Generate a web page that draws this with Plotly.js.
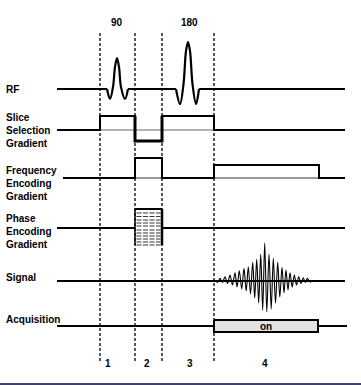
<!DOCTYPE html>
<html><head><meta charset="utf-8">
<script src="https://cdn.plot.ly/plotly-3.0.1.min.js"></script>
<style>html,body{margin:0;padding:0;background:#fff}#chart{width:361px;height:385px}</style>
</head><body><div id="chart"></div>
<script>
// ---- data (time in px-units along the sequence, amplitudes in px-units) ----
const boundaries = [100, 135, 162, 214];
const periodLabels = ['1', '2', '3', '4'];
const periodLabelT = [108, 147, 190, 265];
const pulseLabels = ['90', '180'];
const pulseLabelT = [117, 189];
const seqStart = 57, seqEnd = 345;

const rf90T = [107, 110, 113, 115, 117, 119, 121, 125, 128];
const rf90A = [0, -10, 2, 22, 31, 22, 2, -10, 0];
const rf180T = [176, 180, 183.5, 186, 188, 190, 192.5, 196, 199];
const rf180A = [0, -15, 5, 38, 47, 38, 5, -15, 0];

const sliceT = [57, 100, 100, 135, 135, 162, 162, 214, 214, 345];
const sliceA = [0, 0, 14, 14, -11, -11, 14, 14, 0, 0];

const freqT = [63, 135, 135, 162, 162, 214, 214, 319, 319, 345];
const freqA = [0, 0, 20, 20, 0, 0, 13, 13, 0, 0];

const phaseT = [135, 162];
const phaseLevels = [19, 15, 11.5, 8, 5, 2, -2, -5, -8, -11, -14, -17];

const sigT = [214,218,220,222.5,225,227.5,230,232.5,235,237,239.3,241.7,244,246.2,248.3,250.5,252.7,254.7,256.7,258.7,260.7,262.7,264.7,266.8,269,271.2,273.3,275.5,277.7,279.8,282,284,286,288,290,292.2,294.3,296.5,298.7,301,303.3,305.3,307.3,310,312];
const sigA = [0,-1,2.7,-1.5,4.3,-2.5,6,-4,8.3,-6,10.3,-8,12.7,-10,14.3,-13,18.7,-17,21.7,-22,27,-29,38,-31,27,-28,22.7,-22,18.7,-16,13.7,-12,11,-9,8.3,-6,6,-4,4.3,-2.5,3.3,-1.5,2.7,-1,0];

const acqT = [214, 318];
const acqHalf = 6;
const acqText = 'on';

const channelNames = ['RF', 'Slice<br>Selection<br>Gradient', 'Frequency<br>Encoding<br>Gradient', 'Phase<br>Encoding<br>Gradient', 'Signal', 'Acquisition'];

// ---- layout constants ----
const base = {rf: 89, slice: 130, freq: 178, phase: 228, sig: 281, acq: 326};
const labelY = [89, 130, 183, 231, 277, 319];
const K = '#000';
const up = (b, arr) => arr.map(a => b - a);

const traces = [];
function line(x, y, w, color, lineExtra) {
  traces.push({x, y, mode: 'lines', hoverinfo: 'skip', showlegend: false,
    line: Object.assign({color: color || K, width: w || 2}, lineExtra || {})});
}

// RF
line([seqStart, rf90T[0]], [base.rf, base.rf], 2);
line([rf90T[rf90T.length-1], rf180T[0]], [base.rf, base.rf], 2);
line([rf180T[rf180T.length-1], seqEnd], [base.rf, base.rf], 2);
line(rf90T, up(base.rf, rf90A), 2.2, K, {shape: 'spline', smoothing: 1});
line(rf180T, up(base.rf, rf180A), 2.2, K, {shape: 'spline', smoothing: 1});

// Slice selection
line([boundaries[0], boundaries[3]], [base.slice, base.slice], 1.5, '#9a9a9a');
line(sliceT, up(base.slice, sliceA), 2);
line(sliceT.slice(3, 7), up(base.slice, sliceA.slice(3, 7)), 3);

// Frequency
line([freqT[1], freqT[4]], [base.freq, base.freq], 1, '#333');
line([freqT[5], freqT[8]], [base.freq, base.freq], 1, '#333');
line(freqT, up(base.freq, freqA), 2);

// Phase
line([seqStart, phaseT[0]], [base.phase, base.phase], 2);
line([phaseT[1], seqEnd], [base.phase, base.phase], 2);
phaseLevels.forEach((lv, i) => {
  if (i === 0) line([phaseT[0], phaseT[1]], [base.phase - lv, base.phase - lv], 2);
  else line([phaseT[0] + 1.5, phaseT[1] - 1.5], [base.phase - lv, base.phase - lv], 1.2, '#333', {dash: '5px,1.5px'});
});
const lastLv = phaseLevels[phaseLevels.length - 1];
line([phaseT[0], phaseT[0]], [base.phase - phaseLevels[0], base.phase - lastLv], 1.5);
line([phaseT[1], phaseT[1]], [base.phase - phaseLevels[0], base.phase - lastLv], 2.5);

// Signal
line([seqStart, seqEnd], [base.sig, base.sig], 2);
line(sigT, up(base.sig, sigA), 1.1, K, {shape: 'spline', smoothing: 0.9});

// Acquisition
line([seqStart, seqEnd + 2], [base.acq, base.acq], 2);
traces.push({x: [acqT[0], acqT[1], acqT[1], acqT[0], acqT[0]],
  y: [base.acq - acqHalf, base.acq - acqHalf, base.acq + acqHalf, base.acq + acqHalf, base.acq - acqHalf],
  mode: 'lines', fill: 'toself', fillcolor: '#e2e2e2', line: {color: K, width: 2}, hoverinfo: 'skip', showlegend: false});

// Dashed boundaries
boundaries.forEach(b => line([b, b], [33, 362], 1.3, K, {dash: '3px,2px'}));

const font = {family: 'Liberation Sans, Arial, sans-serif', size: 10, color: K};
const annotations = [];
const ann = (x, y, t, xa) => annotations.push({x, y, text: '<b>' + t + '</b>', showarrow: false, xanchor: xa, yanchor: 'middle', align: 'left', font});
channelNames.forEach((n, i) => ann(4, labelY[i], n, 'left'));
pulseLabels.forEach((t, i) => ann(pulseLabelT[i], 22, t, 'center'));
periodLabels.forEach((t, i) => ann(periodLabelT[i], 363, t, 'center'));
ann((acqT[0] + acqT[1]) / 2, base.acq, acqText, 'center');

const layout = {
  width: 361, height: 385, margin: {l: 0, r: 0, t: 0, b: 0},
  paper_bgcolor: '#fff', plot_bgcolor: '#fff',
  xaxis: {range: [0, 361], visible: false, fixedrange: true},
  yaxis: {range: [385, 0], visible: false, fixedrange: true},
  annotations,
  shapes: [{type: 'line', xref: 'paper', yref: 'y', x0: 0, x1: 1, y0: 384, y1: 384, line: {color: '#000040', width: 1.6}}]
};
Plotly.newPlot('chart', traces, layout, {staticPlot: true, displayModeBar: false});
</script></body></html>
